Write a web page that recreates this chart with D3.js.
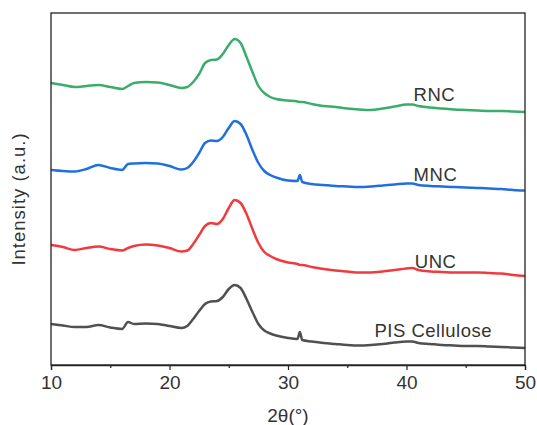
<!DOCTYPE html>
<meta charset="utf-8">
<script src="https://d3js.org/d3.v7.min.js"></script>
<style>
  body { margin: 0; background: #fff; }
  text { font-family: "Liberation Sans", Arial, sans-serif; fill: #333; }
</style>
<body>
<div id="chart"></div>
<script>
// 2theta positions (degrees)
var twoTheta = [10, 11, 12, 13, 14, 15, 16, 16.5, 17, 18, 19, 20, 21, 21.5, 22, 22.5, 23, 23.5, 24, 24.5,
  25, 25.5, 26, 26.5, 27, 27.5, 28, 28.5, 29, 30, 30.8, 31, 31.2, 32, 33, 34, 35, 36, 37, 38, 39,
  40, 40.5, 41, 42, 43, 44, 45, 46, 47, 48, 49, 50];

// intensities (a.u., curves already offset)
var rnc = [282, 280, 278, 279, 280, 278, 276, 279, 282, 283, 282.5, 280, 277, 278, 283, 291, 302, 305, 305.5, 311,
  320, 326, 322, 308, 293, 279, 272, 268, 266, 264.5, 263.5, 263, 263, 261, 259, 258, 256.5, 255.5, 255, 256.5, 258.5,
  260.5, 260.5, 259, 257.5, 256.5, 255.5, 255, 254.5, 254, 254, 253.5, 253];
var mnc = [195, 194, 193.5, 196, 200, 197, 195, 201, 201.5, 202, 201.5, 199, 195.5, 197, 203, 212, 222, 224.5, 224, 228,
  237, 244, 241, 230, 215, 202, 194, 190, 187.5, 184.5, 184, 190, 183, 181, 180, 179, 178.5, 178, 178.5, 179.5, 180.5,
  181.5, 181.5, 180, 179, 178.5, 178, 177.5, 177, 176.5, 176, 175, 174.5];
var unc = [120, 118, 115, 117, 118.5, 116, 114.5, 117, 119, 120.5, 119.5, 117, 113.5, 114.5, 121, 130, 139, 142, 141, 146,
  157, 165, 162, 151, 136, 122, 113, 109, 106, 102.5, 101, 100, 100, 98, 96, 94.5, 93.5, 92.5, 92.5, 93.5, 95,
  96.5, 97, 95, 93.5, 93, 92.5, 92.5, 92.5, 92, 91.5, 90, 89];
var pis = [41, 39.5, 38, 38, 40, 37.5, 36, 43, 41, 41.5, 41, 39, 37, 39, 46, 54, 61, 63.5, 64, 68,
  76, 80, 77, 66, 53, 41, 34.5, 31.5, 29.5, 27, 26, 33, 25, 23.5, 22, 21, 20, 19.5, 20, 21, 22.5,
  23.5, 23.5, 22, 21, 20, 19.5, 19, 19, 18.5, 18, 17.5, 17];

var seriesNames = ["RNC", "MNC", "UNC", "PIS Cellulose"];
var seriesColors = ["#3aad6b", "#1f6fde", "#ef3b3e", "#505050"];
var seriesValues = [rnc, mnc, unc, pis];
// label anchor: 2theta where label starts, intensity at baseline
var labelTheta = [40.6, 40.6, 40.7, 37.3];
var labelLevel = [264, 184, 97, 28];

var xTicks = [10, 20, 30, 40, 50];
var xMinorTicks = [15, 25, 35, 45];

var margin = {top: 13, right: 12, bottom: 60, left: 51},
    width = 537 - margin.left - margin.right,
    height = 425 - margin.top - margin.bottom;

var svg = d3.select("#chart")
  .append("svg")
    .attr("width", 537)
    .attr("height", 425)
  .append("g")
    .attr("transform", "translate(" + margin.left + "," + margin.top + ")");

var x = d3.scaleLinear().domain([10, 50]).range([0, width]);
var y = d3.scaleLinear().domain([0, 352]).range([height, 0]);

var line = d3.line()
  .curve(d3.curveMonotoneX)
  .x(function(d) { return x(d[0]); })
  .y(function(d) { return y(d[1]); });

seriesValues.forEach(function(vals, i) {
  svg.append("path")
    .datum(twoTheta.map(function(t, j) { return [t, vals[j]]; }))
    .attr("fill", "none")
    .attr("stroke", seriesColors[i])
    .attr("stroke-width", 2.5)
    .attr("stroke-linejoin", "round")
    .attr("d", line);

  svg.append("text")
    .attr("x", x(labelTheta[i]))
    .attr("y", y(labelLevel[i]))
    .style("font-size", "18.5px")
    .style("letter-spacing", "0.5px")
    .text(seriesNames[i]);
});

// frame
svg.append("rect")
  .attr("width", width)
  .attr("height", height)
  .attr("fill", "none")
  .attr("stroke", "#222")
  .attr("stroke-width", 1.3);

// x axis
var xAxis = svg.append("g")
  .attr("transform", "translate(0," + height + ")")
  .call(d3.axisBottom(x).tickValues(xTicks).tickSize(5).tickPadding(6).tickFormat(d3.format("d")));
xAxis.select(".domain").attr("stroke", "#222").attr("stroke-width", 1.3);
xAxis.selectAll(".tick line").attr("stroke", "#222").attr("stroke-width", 1.2);
xAxis.selectAll("text")
  .style("font-size", "19px")
  .style("font-family", "'Liberation Sans', Arial, sans-serif")
  .attr("fill", "#333");

svg.append("g")
  .attr("transform", "translate(0," + height + ")")
  .call(d3.axisBottom(x).tickValues(xMinorTicks).tickSize(3).tickFormat(""))
  .call(function(g) { g.select(".domain").remove(); })
  .selectAll(".tick line").attr("stroke", "#222").attr("stroke-width", 1.2);

svg.append("text")
  .attr("x", width / 2)
  .attr("y", height + 57)
  .attr("text-anchor", "middle")
  .style("font-size", "19px")
  .text("2θ(°)");

svg.append("text")
  .attr("transform", "translate(" + (24.5 - margin.left) + "," + (199 - margin.top) + ") rotate(-90)")
  .attr("text-anchor", "middle")
  .style("font-size", "18.5px")
  .style("letter-spacing", "1px")
  .text("Intensity (a.u.)");
</script>
</body>
